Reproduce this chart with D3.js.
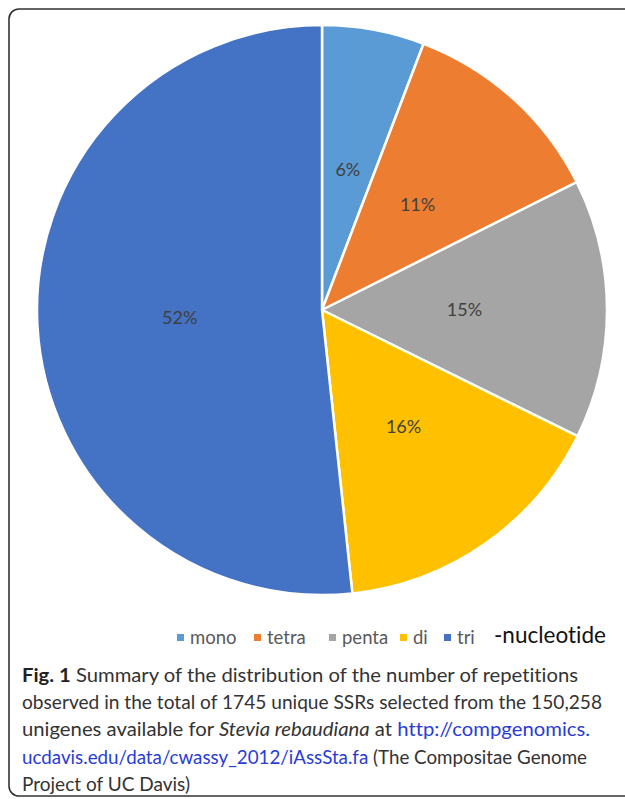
<!DOCTYPE html>
<html><head><meta charset="utf-8">
<script src="https://cdn.jsdelivr.net/npm/d3@7"></script>
<style>html,body{margin:0;padding:0;background:#fff;}svg{display:block;}text{font-variant-ligatures:none;}</style>
</head><body>
<svg id="c" width="625" height="799"></svg>
<script>
const categories = ["mono", "tetra", "penta", "di", "tri"];
const values = [5.8, 11.8, 14.7, 16.0, 51.7];
const pctLabels = ["6%", "11%", "15%", "16%", "52%"];
const colors = ["#5B9BD5", "#ED7D31", "#A5A5A5", "#FFC000", "#4472C4"];
const legendSuffix = "-nucleotide";

const svg = d3.select("#c");
// frame
svg.append("rect").attr("x", 9).attr("y", 9).attr("width", 640).attr("height", 787)
  .attr("rx", 10).attr("fill", "none").attr("stroke", "#333").attr("stroke-width", 1.6);

const cx = 322, cy = 310, R = 285;
const data = categories.map((c, i) => ({cat: c, value: values[i], label: pctLabels[i], color: colors[i]}));
const pie = d3.pie().value(d => d.value).sort(null);
const arc = d3.arc().innerRadius(0).outerRadius(R);
const labelArc = d3.arc().innerRadius(R * 0.5).outerRadius(R * 0.5);
const g = svg.append("g").attr("transform", `translate(${cx},${cy})`);
const arcs = pie(data);
g.selectAll("path").data(arcs).join("path")
  .attr("d", arc).attr("fill", d => d.data.color)
  .attr("stroke", "#fff").attr("stroke-width", 2.5).attr("stroke-linejoin", "round");
g.selectAll("text").data(arcs).join("text")
  .attr("transform", d => { const c = labelArc.centroid(d); return `translate(${c[0]},${c[1]})`; })
  .attr("text-anchor", "middle").attr("dy", "0.35em")
  .attr("font-family", "Lato, 'Liberation Sans', sans-serif").attr("font-size", 18)
  .attr("fill", "#404040").text(d => d.data.label);

// legend
const legX = [177, 254, 329, 400, 444];
const lg = svg.append("g");
data.forEach((d, i) => {
  lg.append("rect").attr("x", legX[i]).attr("y", 634).attr("width", 7).attr("height", 7).attr("fill", d.color);
  lg.append("text").attr("x", legX[i] + 13).attr("y", 644)
    .attr("font-family", "Lato, 'Liberation Sans', sans-serif").attr("font-size", 18.5)
    .attr("fill", "#595959").text(d.cat);
});
svg.append("text").attr("x", 494).attr("y", 643)
  .attr("font-family", "Lato, 'Liberation Sans', sans-serif").attr("font-size", 22.5)
  .attr("fill", "#111").text(legendSuffix);

// caption
const ff = "Lato, 'Noto Sans', sans-serif";
const lines = [
  {w: 556, parts: [{t: "Fig. 1", b: true}, {t: " Summary of the distribution of the number of repetitions"}]},
  {w: 580, parts: [{t: "observed in the total of 1745 unique SSRs selected from the 150,258"}]},
  {w: 568, parts: [{t: "unigenes available for "}, {t: "Stevia rebaudiana", i: true}, {t: " at "}, {t: "http://compgenomics.", link: true}]},
  {w: 565, parts: [{t: "ucdavis.edu/data/cwassy_2012/iAssSta.fa", link: true}, {t: " (The Compositae Genome"}]},
  {w: 168, parts: [{t: "Project of UC Davis)"}]}
];
lines.forEach((ln, k) => {
  const t = svg.append("text").attr("x", 22).attr("y", 682 + k * 27.2)
    .attr("font-family", ff).attr("font-size", 19.5).attr("fill", "#333")
    .attr("textLength", ln.w).attr("lengthAdjust", "spacingAndGlyphs");
  ln.parts.forEach(p => {
    const s = t.append("tspan").text(p.t);
    if (p.b) s.attr("font-weight", "bold").attr("fill", "#222");
    if (p.i) s.attr("font-style", "italic");
    if (p.link) s.attr("fill", "#2a3cd6");
  });
});
</script>
</body></html>
